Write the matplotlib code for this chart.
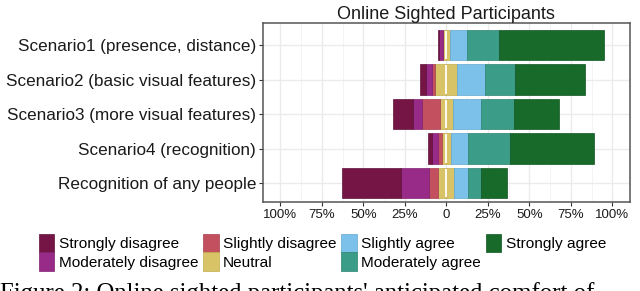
import numpy as np
import matplotlib.pyplot as plt
from matplotlib.patches import Patch

# ── data (percent of participants), rows top to bottom ───────────────────────
categories = [
    "Scenario1 (presence, distance)",
    "Scenario2 (basic visual features)",
    "Scenario3 (more visual features)",
    "Scenario4 (recognition)",
    "Recognition of any people",
]
levels = ["Strongly disagree", "Moderately disagree", "Slightly disagree", "Neutral",
          "Slightly agree", "Moderately agree", "Strongly agree"]

strongly_disagree   = [0.5, 4.0, 12.0, 2.6, 36.0]
moderately_disagree = [2.2, 3.4, 5.4, 3.8, 16.6]
slightly_disagree   = [0.0, 2.0, 10.6, 2.0, 5.8]
neutral             = [4.2, 13.2, 8.0, 5.6, 9.6]
slightly_agree      = [10.6, 16.4, 17.0, 10.4, 8.4]
moderately_agree    = [19.0, 18.6, 19.6, 25.0, 7.6]
strongly_agree      = [63.5, 42.0, 27.0, 50.7, 15.6]

colors = ["#741546", "#992b88", "#c2505f", "#d8c466",
          "#7bc1e9", "#3b9c87", "#186a2a"]
edges  = ["#5e0f38", "#7f2070", "#a8404e", "#c2ad50",
          "#5fa8d2", "#2c8270", "#0f5520"]

tick_vals   = [-100, -75, -50, -25, 0, 25, 50, 75, 100]
tick_labels = ["100%", "75%", "50%", "25%", "0", "25%", "50%", "75%", "100%"]

caption = "Figure 2: Online sighted participants' anticipated comfort of"

plt.rcParams["font.family"] = ["Liberation Sans", "DejaVu Sans"]

# ── figure ───────────────────────────────────────────────────────────────────
fig = plt.figure(figsize=(6.4, 2.91), dpi=100)
ax = fig.add_axes([0.411, 0.306, 0.573, 0.615])

y = np.arange(len(categories))[::-1] + 1.0
h = 0.88

neg = [slightly_disagree, moderately_disagree, strongly_disagree]
pos = [slightly_agree, moderately_agree, strongly_agree]
half = np.array(neutral) / 2.0

# neutral split in two halves around zero
ax.barh(y, -half, left=0, height=h, color=colors[3], edgecolor=edges[3], lw=0.5, zorder=3)
ax.barh(y, half, left=0, height=h, color=colors[3], edgecolor=edges[3], lw=0.5, zorder=3)
ax.vlines(np.zeros_like(y), y - h / 2 + 0.03, y + h / 2 - 0.03,
          color="white", lw=1.3, zorder=4)

left = -half
for vals, ci in zip(neg, [2, 1, 0]):
    v = np.array(vals)
    ax.barh(y, -v, left=left, height=h, color=colors[ci], edgecolor=edges[ci],
            lw=0.5, zorder=3)
    left = left - v

left = half.copy()
for vals, ci in zip(pos, [4, 5, 6]):
    v = np.array(vals)
    ax.barh(y, v, left=left, height=h, color=colors[ci], edgecolor=edges[ci],
            lw=0.5, zorder=3)
    left = left + v

ax.set_xlim(-110.5, 110.5)
ax.set_ylim(0.45, 5.64)
ax.set_xticks(tick_vals)
ax.set_xticklabels(tick_labels, fontsize=9.5, color="#1a1a1a")
ax.set_xticks(np.arange(-87.5, 100, 25), minor=True)
ax.set_yticks(y)
ax.set_yticklabels(categories, fontsize=12.3, color="#1a1a1a")
ax.tick_params(axis="both", which="major", length=3, width=0.8, color="#333333", pad=2)
ax.tick_params(axis="x", which="minor", length=0)

ax.grid(True, which="major", color="#ebebeb", lw=1.0, zorder=0)
ax.grid(True, which="minor", axis="x", color="#f2f2f2", lw=0.6, zorder=0)
ax.set_axisbelow(True)
for s in ax.spines.values():
    s.set_color("#555555")
    s.set_linewidth(1.1)

ax.set_title("Online Sighted Participants", fontsize=13, pad=3, color="#1a1a1a")

handles = [Patch(facecolor=c, edgecolor=e, lw=0.5) for c, e in zip(colors, edges)]
fig.legend(handles, levels, loc="upper left", bbox_to_anchor=(0.061, 0.196),
           ncol=4, frameon=False, fontsize=11.1, handlelength=1.0, handleheight=1.45,
           handletextpad=0.3, columnspacing=0.3, labelspacing=0.0, borderpad=0,
           borderaxespad=0)

# figure caption, cut by the bottom edge as in the source page
fig.text(0.0, -0.01, caption, fontsize=17.8, family="Liberation Serif",
         ha="left", va="center")

fig.savefig("out.png", dpi=100)
